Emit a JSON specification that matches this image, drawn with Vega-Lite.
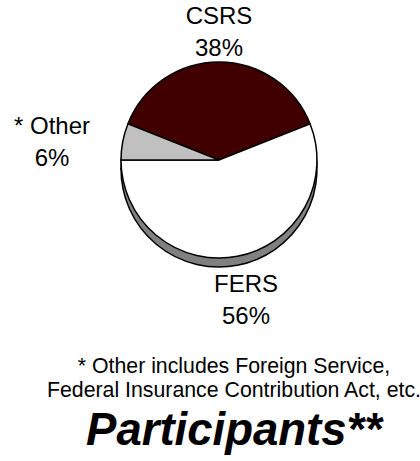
{
  "$schema": "https://vega.github.io/schema/vega-lite/v6.json",
  "width": 400,
  "height": 320,
  "autosize": {"type": "none"},
  "padding": {"left": 19, "right": 1, "top": 0, "bottom": 141},
  "background": "white",
  "config": {"view": {"stroke": null}, "text": {"font": "Liberation Sans"}},
  "data": {
    "values": [
      {"plan": "CSRS", "share": 38, "label": ["CSRS", "38%"]},
      {"plan": "FERS", "share": 56, "label": ["FERS", "56%"]},
      {"plan": "Other", "share": 6, "label": ["* Other", "6%"]}
    ]
  },
  "encoding": {
    "theta": {"field": "share", "type": "quantitative", "stack": true, "scale": {"range": [5.08938, 11.37257]}},
    "order": {"field": "plan", "type": "ordinal", "sort": "ascending"}
  },
  "layer": [
    {
      "mark": {"type": "arc", "radius": 98, "yOffset": 9, "fill": "#808080", "stroke": "black", "strokeWidth": 1.5}
    },
    {
      "mark": {"type": "arc", "radius": 98, "stroke": "black", "strokeWidth": 1.5},
      "encoding": {
        "color": {
          "field": "plan", "type": "nominal",
          "scale": {"domain": ["CSRS", "FERS", "Other"], "range": ["#400000", "#ffffff", "#c0c0c0"]},
          "legend": null
        }
      }
    },
    {
      "mark": {"type": "text", "radius": 127, "dy": -16, "fontSize": 24, "lineHeight": 32, "align": "center", "baseline": "middle", "color": "black"},
      "encoding": {"text": {"condition": {"test": "datum.plan === 'CSRS'", "field": "label", "type": "nominal"}, "value": ""}}
    },
    {
      "mark": {"type": "text", "radius": 144, "dy": -16, "fontSize": 24, "lineHeight": 32, "align": "center", "baseline": "middle", "color": "black"},
      "encoding": {"text": {"condition": {"test": "datum.plan === 'FERS'", "field": "label", "type": "nominal"}, "value": ""}}
    },
    {
      "mark": {"type": "text", "radius": 170, "dy": -1, "fontSize": 24, "lineHeight": 32, "align": "center", "baseline": "middle", "color": "black"},
      "encoding": {"text": {"condition": {"test": "datum.plan === 'Other'", "field": "label", "type": "nominal"}, "value": ""}}
    }
  ],
  "title": {
    "text": ["* Other includes Foreign Service,", "Federal Insurance Contribution Act, etc."],
    "subtitle": "Participants**",
    "orient": "bottom",
    "anchor": "middle",
    "dx": 15,
    "offset": 18,
    "font": "Liberation Sans",
    "fontSize": 21.3,
    "fontWeight": "normal",
    "lineHeight": 24,
    "color": "black",
    "subtitleFont": "Liberation Sans",
    "subtitleFontSize": 45.5,
    "subtitleFontWeight": "bold",
    "subtitleFontStyle": "italic",
    "subtitleColor": "black",
    "subtitlePadding": 8
  }
}
